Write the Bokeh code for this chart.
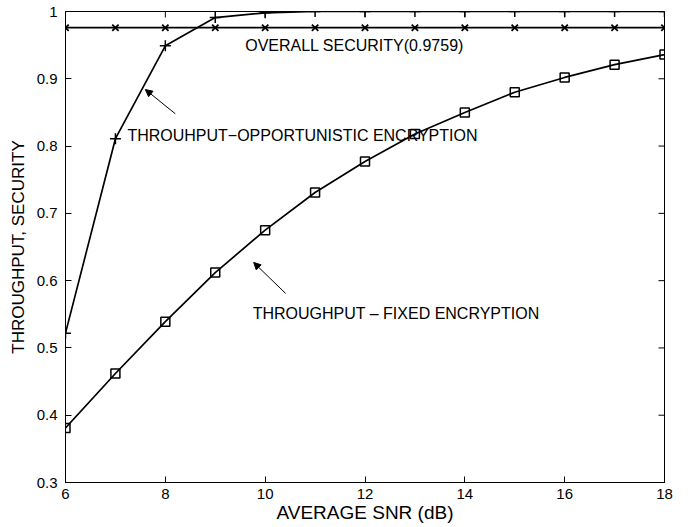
import math
from bokeh.plotting import figure
from bokeh.models import LinearAxis, FixedTicker, CustomJSTickFormatter, Range1d, Arrow, NormalHead, Label
from bokeh.embed import file_html
from bokeh.resources import INLINE

snr = [6, 7, 8, 9, 10, 11, 12, 13, 14, 15, 16, 17, 18]
thr_opportunistic = [0.522, 0.811, 0.949, 0.991, 0.998, 1.0, 1.0, 1.0, 1.0, 1.0, 1.0, 1.0, 1.0]
thr_fixed = [0.381, 0.462, 0.539, 0.612, 0.675, 0.731, 0.777, 0.818, 0.850, 0.880, 0.902, 0.921, 0.936]
security = [0.9759] * 13
x_ticks = [6, 8, 10, 12, 14, 16, 18]
y_ticks = [0.3, 0.4, 0.5, 0.6, 0.7, 0.8, 0.9, 1.0]

FONT = "Liberation Sans"
X0, X1, Y0, Y1 = 6, 18, 0.3, 1.0

p = figure(width=694, height=526, output_backend="svg", toolbar_location=None,
           x_range=Range1d(X0, X1), y_range=Range1d(Y0, Y1),
           min_border_left=65, min_border_right=30, min_border_top=11, min_border_bottom=44,
           x_axis_location=None, y_axis_location=None)
p.grid.visible = False
p.outline_line_color = "black"
p.outline_line_width = 1
p.background_fill_color = "white"
p.border_fill_color = "white"

fmt = CustomJSTickFormatter(code="return (Math.round(tick*10)/10).toString();")

def mk_axis(ticks):
    ax = LinearAxis(ticker=FixedTicker(ticks=ticks), formatter=fmt)
    ax.major_tick_in = 6
    ax.major_tick_out = 0
    ax.minor_tick_line_color = None
    ax.axis_line_color = "black"
    ax.major_tick_line_color = "black"
    ax.major_label_text_font = FONT
    ax.major_label_text_font_size = "15px"
    ax.major_label_text_color = "black"
    ax.axis_label_text_font = FONT
    ax.axis_label_text_font_style = "normal"
    ax.axis_label_text_color = "black"
    return ax

xb = mk_axis(x_ticks)
xb.axis_label = "AVERAGE SNR (dB)"
xb.axis_label_text_font_size = "19px"
xb.axis_label_standoff = 0
xb.major_label_standoff = 6
yl = mk_axis(y_ticks)
yl.axis_label = "THROUGHPUT, SECURITY"
yl.axis_label_text_font_size = "17px"
yl.axis_label_standoff = 6
yl.major_label_standoff = 8
p.add_layout(xb, "below")
p.add_layout(yl, "left")

# inward ticks on the top and right edges of the box
p.ray(x=x_ticks, y=[Y1] * len(x_ticks), length=6, length_units="screen",
      angle=-math.pi / 2, line_color="black", line_width=1)
p.ray(x=[X1] * len(y_ticks), y=y_ticks, length=6, length_units="screen",
      angle=math.pi, line_color="black", line_width=1)

LW = 1.7
p.line(snr, security, line_color="black", line_width=LW)
p.scatter(snr, security, marker="x", size=9, line_color="black", line_width=1.8)
p.line(snr, thr_opportunistic, line_color="black", line_width=LW)
p.scatter(snr, thr_opportunistic, marker="cross", size=11, line_color="black", line_width=1.5)
p.line(snr, thr_fixed, line_color="black", line_width=LW)
p.scatter(snr, thr_fixed, marker="square", size=9, line_color="black", fill_color=None, line_width=1.5)

for (tx, ty, txt) in [(9.6, 0.949, "OVERALL SECURITY(0.9759)"),
                      (7.24, 0.816, "THROUHPUT\u2212OPPORTUNISTIC ENCRYPTION"),
                      (9.75, 0.551, "THROUGHPUT \u2013 FIXED ENCRYPTION")]:
    p.add_layout(Label(x=tx, y=ty, text=txt, text_font=FONT, text_font_size="16px",
                       text_baseline="middle", text_color="black"))

p.add_layout(Arrow(x_start=8.20, y_start=0.848, x_end=7.60, y_end=0.884, line_width=1,
                   end=NormalHead(size=7, fill_color="black", line_color="black")))
p.add_layout(Arrow(x_start=10.41, y_start=0.581, x_end=9.77, y_end=0.627, line_width=1,
                   end=NormalHead(size=7, fill_color="black", line_color="black")))

open("out.html", "w").write(file_html(p, INLINE))
